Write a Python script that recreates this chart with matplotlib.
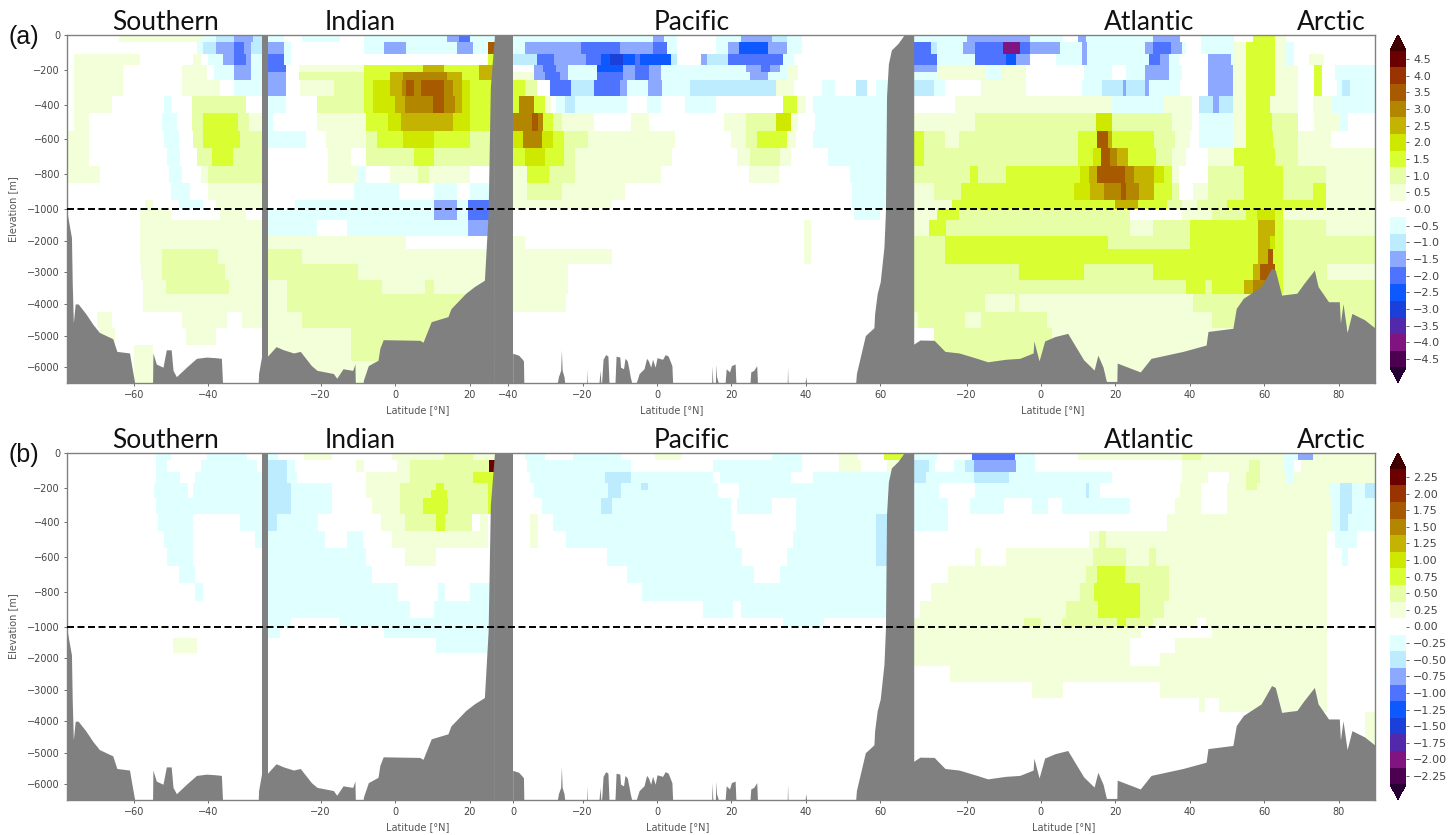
import numpy as np
import matplotlib
matplotlib.use('Agg')
import matplotlib.pyplot as plt
from matplotlib.colors import ListedColormap, BoundaryNorm

# depth levels of the model sections [m]
DEPTH_EDGES = [0, 40, 110, 170, 215, 260, 350, 450, 550, 650, 750, 850, 950, 1000, 1350, 1850, 2250,
               2750, 3250, 3700, 4250, 4750, 5300, 5800, 6500]

# each row (one depth level): class, lat where it ends, next class, ...  value = class * colorbar step
SOUTHERN_A = [
    [0,-64,1,-42,-1,-38,-2,-33,-3,-28,-2],
    [0,-43,-1,-41.5,-2,-38,-3,-33,-4,-30.5,-3,-28.5,-2],
    [0,-76,1,-58.5,0,-44,1,-42,0,-40,-1,-36,-3,-33,-4,-30,-3,-28.5,-1],
    [0,-76,1,-63,0,-47,1,-40.5,0,-38.5,-1,-33,-3,-28.5,-1],
    [0,-76,1,-63,0,-47,1,-40.5,0,-38.5,-1,-33,-3,-28.5,-1],
    [0,-76,1,-63,0,-47,1,-37,0,-33,-1],
    [0,-76,1,-66,0,-52,-1,-50,0,-44.5,2,-30,0],
    [0,-76,1,-72,0,-52.5,-1,-48.5,0,-44.5,2,-41.5,3,-32,2,-29,1],
    [1,-72,0,-52,-1,-48,0,-44,2,-41.5,3,-31.5,2],
    [1,-72,0,-51,-1,-47.5,0,-43,2,-39,3,-33.5,2],
    [1,-69,0,-50.5,-1,-47,0,-42,1,-40,2],
    [0,-50,-1,-45,0,-40,1],
    [0,-57,1,-55,0,-48,-1,-41.5,0,-38,1],
    [0,-58.5,1,-50,0,-37,1,-30,0],
    [0,-58.5,1],
    [0,-58.5,1],
    [0,-58.5,1,-52.5,2,-37.5,1],
    [0,-58,1,-52.5,2,-35.5,1],
    [0,-57.5,1,-51.5,2,-34.5,1],
    [0,-57.5,1],
    [0,-70,1,-66,0,-47,1,-35,0,-31,1],
    [0,-69,1,-65,0,-46,1,-38,0],
    [0,-60,1,-55,0],
    [0,-60,1,-55,0],
]
INDIAN_A = [
    [-1,-30,0,-25,-1,-15,0,-8.5,-1,14,-3,17,-4,20,-1],
    [-3,-30,-1,-28,0,-8.5,-1,-3,-3,3,-1,16.5,-3,21,-1,25,7],
    [-4,-30,-1,-28,0,25,3],
    [-4,-29.5,0,-26,1,-8.5,3,7.5,5,13,3,22.5,5],
    [-3,-29.5,0,-26,2,-8.5,3,-1.5,5,2,6,14,5,18,3,22.5,5],
    [-3,-29.5,0,-25.5,1,-16.5,2,-8.5,3,-6,4,-1.5,5,1.7,6,3,7,5,6,7,7,13,6,15.5,5,18,4,20,3],
    [-1,-29.5,0,-21,2,-8.5,3,-6,4,0,5,2.5,6,10,7,13,6,16,5,18,4,20,3],
    [-1,-33,0,-21,1,-8,3,-2,4,1.5,5,15.5,4,20,3],
    [-1,-24,0,-18.5,1,-8,2,-5,3,2,4,10.5,3,20,2],
    [0,-18,1,-12,0,-8,2,5,3,10.5,2],
    [0,-18,1,-10,-1,-8,0,-1.5,1,6,2,9,1,20,0],
    [0,-11,-1,1,0,10.5,-1,16.5,0,20,-1],
    [0,-27,-1,10.5,-3,16.5,-1,19.5,-4],
    [-1,10.5,-3,16.5,-1,19.5,-4],
    [-1,-21,0,-13,-1,19.5,-3],
    [1,3,0],
    [2,-25,1],
    [2,-10,1],
    [1,-29,2,-3.5,1,8,2,10.5,1],
    [1,-29,2],
    [1,-25,2],
    [1,-12,2],
    [1,-12,2],
    [1],
]
PACIFIC_A = [
    [-1,-1,-3,2,-1,5.5,0,16,-1,22.4,-3,31,-2,35,-1,39,0],
    [-1,-35.5,-3,-20.6,-4,-10,-3,-1,-4,2.7,-1,5.5,0,16,-1,19,-3,22,-5,30,-3,35,-1,39,0],
    [-2,-32.3,-4,-27.8,-3,-19,-4,-15,-5,-12.6,-6,-9,-5,-6,-4,-4.5,-5,3.6,-2,5.5,0,11.7,-3,13.5,-2,19,-4,34,-1,37,0],
    [0,-33,-3,-30.5,-4,-27,-3,-24,-1,-16,-5,-9,-3,-6,-4,-2,-3,1,-1,24,-3,28,-4,30.5,-3,33,-1,35,1,38,0],
    [1,-33,-3,-30,-4,-26,-3,-24,-1,-16,-4,-9,-3,-6,-4,-2,-3,1,-1,25,-3,30,-1,35,1,38,0],
    [3,-35.5,2,-32.3,0,-28.7,-4,-23,-2,-17,-4,-10,-3,-8,-1,-2.3,-3,1.5,-1,9,-2,32,1,37,0,44.5,-1,48,0,53.4,-2,56.5,0,59,-1],
    [3,-37,6,-33,3,-30,1,-28.5,0,-27,-1,-24.7,-2,-22,-1,-8,0,-2.7,-1,1.3,0,7.5,-1,16,0,34,3,37.7,1,40,0,42,-1],
    [6,-33.5,7,-32,6,-30.5,3,-28,2,-25.5,1,-17,0,-7,1,-2,0,18,1,24,2,32,4,36,1,38,0,42.5,-1],
    [4,-36,6,-31,4,-28,3,-25,2,-18.5,1,5,0,20,1,24,2,27,3,35,1,37.5,0,42,-1],
    [3,-35.5,4,-30,3,-25,2,-22,1,4,0,21.5,1,25,2,33,1,36,0,46,-1],
    [1,-35,3,-29,2,-22,1,1,0,24.7,1,32.7,0,52,-1],
    [1,-35,2,-25.5,1,-8.5,0,52.5,-1],
    [1,-12,0,52.5,-1],
    [0,53,-1,60,0],
    [0,39.5,1,41.5,0],
    [1,-35.5,0,39.5,1,41.5,0],
    [1,-12,0,39.5,1,41.5,0],
    [1,-24,0],
    [1,-24,0],
    [1,-24.5,0],
]
ATLANTIC_A = [
    [-1,-20,-3,-3,-1,6,0,10,-3,12,-1,30,-3,37.5,0,43,-1,52,0,57,3,63,1,66,0],
    [-4,-29.5,-2,-28,-1,-21,-3,-17.7,-4,-10.3,-8,-5.7,-4,-3,-3,5.3,-1,11,-3,12.4,-1,28,-3,30,-4,35,-3,38,-1,39,0,43,-1,52,1,55,3,63,1,66,-1,68,0],
    [-4,-28,-1,-17.7,-4,-9.5,-5,-6.7,-3,-3,0,4,-1,11,-3,12.4,-1,29,-4,32,-3,34.4,-1,37,0,45,-3,51,-1,52,1,55,3,63,1,66,-1,68,0,72,1,76,0],
    [-3,-28,1,-15,-1,-10.5,1,-4,0,11.5,-1,19,0,23,-1,28,-3,34.4,-1,38,0,45,-3,51.6,1,55,3,63,1,69,0,73.5,3,75.5,0,79,-1],
    [-1,-28,1,-15,-1,-10.5,1,-4,0,11.5,-1,19,0,23,-1,28,-3,34.4,-1,38,0,45,-3,51.6,1,55,3,63,1,69,0,73.5,3,75.5,0,79,-1],
    [-2,-28.7,-1,-25.8,0,-16,1,-4,0,11,-1,16.5,-2,22,-3,23,-2,28,-3,29,-1,37.6,0,45,-3,51.6,1,55,3,63,1,69,0,73.5,3,75.5,0,79.5,-1,81,-2,83,-1],
    [0,-23,1,19,-1,33,1,40.5,0,42.5,-2,46.3,-3,48,-2,51.6,1,55,3,61.5,1,69,0,73,1,78,-1],
    [1,-17.7,2,14.8,4,19,2,35.3,1,40.5,0,42.5,-1,51.6,1,55,3,62,2,69,0,73.5,1,80.5,-1,82.5,0],
    [3,-31.5,2,-25.8,1,-22,2,10,3,15,7,18,5,19,3,30.6,2,36,1,40,0,42.5,-1,51.6,1,55,3,62.5,2,69,1,78,0],
    [3,-31.5,2,10,3,14,4,16.2,7,18.6,6,20.5,5,23.4,3,31,2,35.3,1,39,0,45,1,52,3,63,2,69,1],
    [2,-19,3,-17,2,-9.5,3,10.5,4,13,5,15,7,22.5,6,25,5,30.6,4,33,3,35.3,1,37,0,45,2,54.5,3,65,2,76.4,1],
    [1,-28.7,2,-21.5,3,9,4,13.3,5,17,6,21.5,7,23,6,26.3,5,30.6,3,35.3,2,37,0,41,1,45,2,54.5,3,65,2,73,3,76.4,1],
    [1,-24,3,20,5,26,3,34,2,38,1,42,2,50,3,76.4,1],
    [1,-28,3,-22,2,24,0,38,1,46,2,55,3,58,4,63,3,65,1],
    [1,-30,3,-25.5,2,24,1,30,2,40,3,58.3,5,63,3,65,2,76.4,1],
    [2,-25.8,3,18,2,40,3,58.3,5,61.5,4,63,3,65,2],
    [2,-25.8,3,58.3,5,61,7,62.5,3,65,2],
    [2,-6,3,11.5,2,30,3,57,5,59,7,63,3,65,2,77,1],
    [2,39,3,44,2,46,3,54.5,5,57,6,61,3,65,2],
    [2,-15,1,-7,2,-6,1,41,2],
    [1,-33,2,-20.5,1,-16,2,1.5,1,46,2],
    [0,-28.7,2,3,1],
    [2,3,1],
    [2,3,1],
]

SOUTHERN_B = [
    [0,-54,-1,-50,0,-40.5,-1,-29.5,0],
    [0,-54,-1,-51,0,-42,-1,-27,0],
    [0,-54,-1,-47.7,0,-43.5,-1],
    [0,-54.4,-1,-45.5,0,-44,-1],
    [0,-54.4,-1,-45.5,0,-44,-1],
    [0,-54,-1],
    [0,-53.5,-1,-44.2,0,-31.5,-1],
    [0,-52,-1,-44.2,0,-27.5,-1],
    [0,-51,-1,-44.2,0],
    [0,-48,-1,-43.5,0],
    [0,-43.5,-1,-41.5,0],
    [0],
    [0],
    [0],
    [0,-49.5,1,-43,0],
]
INDIAN_B = [
    [-1,-31.5,0,-24.5,1,-17,0,-1,1,13,2,21,1],
    [-2,-29,-1,-27,0,-10.5,1,-8.5,0,0.5,1,4,2,25.4,9],
    [-2,-29,-1,-26.5,0,-8,1,4,2,21,3],
    [-2,-28,-1,-17,0,-8,1,1.2,2,11,3,13,2,25,3],
    [-2,-28,-1,-17,0,-8,1,1.2,2,9.5,3,14,2,25,3],
    [-2,-28,-1,-17,0,-6.3,1,1.2,2,7.5,3,14.2,2,25,3],
    [-2,-31.8,-1,-20.6,0,-3.7,1,2.6,2,11,3,13.3,2,20.5,0,22.7,1,25,0],
    [-1,-19,0,-13,-1,-8.6,0,-1,1,25,0],
    [-1,-7.7,0,2.6,1,11,0],
    [-1,-6.3,0],
    [-1,0.8,0,11.5,-1,13.3,0,20,-1],
    [-1,4,0,10.6,-1],
    [-1,-28,0,-15.3,-1],
    [-1,-31,0,-3,-1],
    [0,11,-1],
]
PACIFIC_B = [
    [0,-35.5,-1,-30,0,-22.5,-1,-9.5,0,-0.5,1,6.5,0,31,-1,39,0,49,1,54,0,61,3],
    [0,-35,-1,-7,0,15,-1,39,0,49,1,55,0,62,1],
    [0,-34,-1,-14,-2,-7,-1,15,0,17,-1,36,0,42,-1],
    [0,-33,-1,-13,-2,-9.5,-1,-4.3,-2,-2.5,-1,16.5,0,22,-1],
    [0,-33,-1,-13,-2,-9.5,-1,16.5,0,22,-1],
    [0,-31,-1,-15,-2,-12,-1,20,0,21.5,-1,31,0,37.5,-1],
    [0,-34,1,-32,0,-28,-1,20,0,37.5,-1,59,-2],
    [0,-34,1,-32,0,-24.5,-1,21,0,36.5,-1,59,-2],
    [0,-13.5,-1,23,0,35,-1,59,-2],
    [0,-8,-1,26,0,33,-1],
    [0,-4,-1],
    [0,12.5,-1,20.5,0,22.5,-1],
    [0,34,-1,45,0],
]
ATLANTIC_B = [
    [-1,-28,0,-18.5,-4,-7,-1,-1.5,0,10,1,38,2,43,1,65,-1,69,-3,73,1],
    [-2,-30,-1,-28.5,0,-23.5,-1,-20.5,-2,-18,-3,-6.7,-1,-1.5,0,38,1,56,2,59,1,65,-1,68,0,70,1],
    [-2,-31,-1,-18,-2,-8.6,-1,19,0,38,1,45,0,50.5,1,55,2,59,1,66,-1,68,1],
    [-1,-27.5,0,-17.7,-1,12,-2,13,-1,16,0,37.5,1,43,0,50,1,55,2,58,1,77.5,-1,80.5,-2,83.5,-1,87,-2],
    [-1,-27.5,0,-17.7,-1,12,-2,13,-1,16,0,37.5,1,43,0,50,1,77.5,-1,80.5,-2,83.5,-1,87,-2],
    [-1,-25,0,-19,-1,-10,0,-2.4,-1,2,0,5.7,-1,24,0,36,1,43,0,50,1,78,-1,80.5,-2,83.5,-1],
    [-1,-25,0,34,1,78,-1,80.5,-2,82.5,-1],
    [0,13,1,15.5,2,17.5,1,77,0,79,-1,85,0],
    [0,-17.7,1,-16,0,-9.6,1,14,2,23,1,29,2,31,1,77,0,81,-1,82.5,0],
    [0,-25,1,12,2,15,3,22.5,2,34.5,1,77,0],
    [0,-29.6,1,10.5,2,14.3,3,26.7,2,34.5,1,77,0],
    [0,-32.5,1,6.7,2,15.3,3,26.7,2,33,1,77,0],
    [1,-4.5,2,0,1,5.7,2,20.5,3,23,2,30,1,42,0,44.5,1,77,0],
    [1,27,0,46,1,77,0],
    [1,24,0,36,1,77,0],
    [1,24,0,32,1,77,0],
    [0,-24.5,1,77,0],
    [0,-2.5,1,6,0,32,1,77,0],
    [0,42.5,1,44,0,48,1,77,0],
    [0,87,1],
    [0,87,1],
]

# sea floor depth along each section [m], 6500 = deeper than the plot
SOUTHERN_LAT = [-78,-76.8,-76.6,-76.3,-75.8,-75,-73,-71,-69.3,-65.7,-64.6,-61.2,-60.7,-59.8,-55,-54.9,-54,-52.2,-51.3,-50,-49.5,-48.6,-45.9,-43.2,-40.5,-38,-36.5,-36.2,-26.6,-26.5,-25.6]
SOUTHERN_FLOOR = [1100,1900,3300,4600,4000,4000,4300,4650,4900,5100,5500,5550,5900,6500,6500,5550,5900,6000,5450,5450,6100,6300,6000,5720,5680,5700,5720,6500,6500,6200,5600]
INDIAN_LAT = [-34.3,-32,-30,-27.3,-25.5,-22.5,-21,-16.6,-15.7,-14,-11.4,-10.8,-10.7,-8.6,-8.5,-7.2,-4.6,-4.1,-3.2,6.6,7.5,9.7,14.2,15,19,21.3,24,24.5,25,25.6,26.7]
INDIAN_FLOOR = [5650,5350,5450,5550,5500,5950,6100,6200,6350,6050,6100,5900,6500,6500,6400,5950,5780,5400,5130,5150,5210,4560,4400,4150,3660,3450,3250,2200,1150,300,0]
PACIFIC_LAT = [-38.8,-37.2,-36.2,-35.9,-35.8,-26.8,-26.5,-25.9,-25.7,-25.5,-25,-24.8,-18.9,-18.8,-18.7,-15.6,-15.3,-15.1,-14.9,-14.5,-13.8,-13.2,-12.9,-11.3,-11,-10,-9.8,-9,-8.6,-8,-7.5,-7.2,-6.8,-5.6,-4.8,-3.5,-2.8,-2.3,-1.7,-1.2,-0.5,0,1.5,2.2,3,4,4.2,14.7,14.8,15,15.7,15.8,16,16.5,18.3,18.6,19.5,20,21,21.2,25,25.2,26,26.8,27,35,35.1,35.2,39.8,40,40.2,53.4,53.6,55,56,58.3,58.5,59.2,60,61,61.4,61.7,62.2,63,64.8,66.4,69]
PACIFIC_FLOOR = [5560,5620,5750,5800,6500,6500,6300,6100,5450,6100,6300,6500,6500,6050,6500,6500,6100,6500,6500,5750,5600,5650,6500,6500,5650,5680,6000,6050,5720,5800,6100,6300,6500,6500,6200,6050,5720,5800,6000,5750,6000,5700,5750,5600,5650,5950,6500,6500,5950,6500,6500,5900,6300,6500,6500,6050,6150,5950,5900,6500,6500,6150,6100,5950,6500,6500,6000,6500,6500,6300,6500,6500,6200,5500,5000,4750,4300,3660,3300,2200,1100,350,165,86,48,0,0]
ATLANTIC_LAT = [-34.6,-32.5,-28.7,-25.8,-22,-17.2,-14.3,-9.5,-5.7,-2.1,-1.9,-0.5,1,3.8,7.2,9.6,11.5,14.3,15.3,16.7,17.6,20.4,20.5,26.7,29.6,38.2,44.4,44.9,51.6,52.5,54.4,59.2,62,63,64.7,68.8,70.7,73.5,74.5,77.3,80.2,80.5,81.2,82.3,83.6,87,89.9]
ATLANTIC_FLOOR = [5300,5140,5150,5500,5550,5720,5830,5750,5720,5550,5170,5800,5170,5030,4930,5400,5770,6090,5620,6000,6450,6450,5870,6150,5720,5500,5300,4870,4770,4140,3820,3450,2870,2930,3720,3660,3350,2930,3450,3930,3930,4600,3990,4900,4300,4500,4770]

# offset on the joined x axis, first and last lat, ticks of each section
SECTION_OFFSET = [78.0, 88.2, 158.6, 261.8]
SECTION_RANGE = [(-78, -25.6), (-34.2, 26.7), (-38.8, 69), (-34, 89.8)]
SECTION_TICKS = [[-60, -40], [-20, 0, 20], [-40, -20, 0, 20, 40, 60], [-20, 0, 20, 40, 60, 80]]
FLOORS = [(SOUTHERN_LAT, SOUTHERN_FLOOR), (INDIAN_LAT, INDIAN_FLOOR), (PACIFIC_LAT, PACIFIC_FLOOR), (ATLANTIC_LAT, ATLANTIC_FLOOR)]

TOP_COLORS = ['#fff', '#f2ffd9', '#e6ffa6', '#d9ff33', '#cfe800', '#c4b300', '#b38600', '#a85a00', '#993300', '#6a0000']
LOW_COLORS = ['#e0ffff', '#bdecff', '#8ca8ff', '#4d73ff', '#0d59ff', '#1a40d9', '#5229ab', '#801480', '#4d0050']
CLASS_COLORS = LOW_COLORS[::-1] + TOP_COLORS
TITLES = ['Southern', 'Indian', 'Pacific', 'Atlantic', 'Arctic']
TITLE_PX = [166, 360, 692, 1149, 1331]
LATLABEL_PX_A = [418, 672, 1053]
LATLABEL_PX_B = [418, 678, 1064]
W, H = 1454, 835
K = 0.1816


def fwd(y):
    y = np.asarray(y, dtype=float)
    return np.where(y >= -1000, y, -1000 + (y + 1000) * K)


def inv(y):
    y = np.asarray(y, dtype=float)
    return np.where(y >= -1000, y, -1000 + (y + 1000) / K)


def expand(rows, lats):
    z = np.zeros((len(DEPTH_EDGES) - 1, len(lats)))
    for i, row in enumerate(rows):
        vals = row[0::2]
        breaks = row[1::2]
        z[i] = np.array(vals)[np.searchsorted(breaks, lats, side='right')]
    return z


def panel(top, bottom, step, sections, label, lat_px):
    ax = fig.add_axes([67 / W, 1 - bottom / H, (1375 - 67) / W, (bottom - top) / H])
    ax.set_facecolor('#808080')
    ax.set_yscale('function', functions=(fwd, inv))
    levels = (np.arange(-9, 11) - 0.5) * step
    cmap = ListedColormap(CLASS_COLORS).with_extremes(under='#260033', over='#400000')
    norm = BoundaryNorm(levels, cmap.N)
    ticks = []
    labels = []
    for rows, off, rng, tk, (flat, floor) in zip(sections, SECTION_OFFSET, SECTION_RANGE, SECTION_TICKS, FLOORS):
        edges = np.arange(rng[0], rng[1] + 0.25, 0.25)
        centers = (edges[:-1] + edges[1:]) / 2
        z = expand(rows, centers) * step
        pm = ax.pcolormesh(edges + off, -np.array(DEPTH_EDGES), z, cmap=cmap, norm=norm, shading='flat', antialiased=False, zorder=1)
        ax.fill_between(np.array(flat) + off, -np.array(floor), -6500, color='#808080', lw=0, zorder=2)
        ticks += [t + off for t in tk]
        labels += [str(t).replace('-', '\u2212') for t in tk]
    if label == '(b)':
        # the -40 label of the Pacific is cut in half in panel b
        i = ticks.index(-40 + SECTION_OFFSET[2])
        ticks[i] = -38.6 + SECTION_OFFSET[2]
        labels[i] = '0'
    ax.axhline(-1000, color='k', ls=(0, (3.6, 1.8)), lw=1.4, zorder=3)
    ax.set_xlim(0, 351.6)
    ax.set_ylim(-6500, 0)
    ax.set_xticks(ticks, labels)
    ax.set_yticks([0, -200, -400, -600, -800, -1000, -2000, -3000, -4000, -5000, -6000])
    ax.set_yticklabels(['0', '\u2212200', '\u2212400', '\u2212600', '\u2212800', '\u22121000', '\u22122000', '\u22123000', '\u22124000', '\u22125000', '\u22126000'])
    ax.tick_params(labelsize=7, length=2.5, width=0.6, color='#555555', labelcolor='#444444', pad=2.5)
    ax.set_ylabel('Elevation [m]', fontsize=7, color='#555555')
    ax.yaxis.set_label_coords((18 - 67) / (1375 - 67), 0.5)
    for s in ax.spines.values():
        s.set_color('#808080')
        s.set_linewidth(1.0)
    for name, px in zip(TITLES, TITLE_PX):
        fig.text(px / W, 1 - (top - 13) / H, name, family='Lato', fontsize=19, ha='center', va='center', color='#111111')
    fig.text(8 / W, 1 - (top + 2) / H, label, family='Liberation Sans', fontsize=18, ha='left', va='center', color='#111111')
    for px in lat_px:
        fig.text(px / W, 1 - (bottom + 27) / H, 'Latitude [\u00b0N]', fontsize=7, ha='center', va='center', color='#555555')
    # the colorbar shrinks itself inside this box to make room for the two tips
    cax = fig.add_axes([1390 / W, 1 - bottom / H, 16 / W, (bottom - top) / H])
    cb = fig.colorbar(pm, cax=cax, extend='both', extendfrac=0.05, ticks=np.arange(-9, 10) * step)
    if step == 0.5:
        cb.ax.set_yticklabels([f'{t * step:.1f}'.replace('-', '\u2212') for t in range(-9, 10)])
    else:
        cb.ax.set_yticklabels([f'{t * step:.2f}'.replace('-', '\u2212') for t in range(-9, 10)])
    cb.ax.tick_params(labelsize=8, length=2.5, width=0.6, color='#555555', labelcolor='#444444', pad=2.5)
    cb.outline.set_visible(False)
    cb.ax.minorticks_off()
    return ax


fig = plt.figure(figsize=(W / 100, H / 100), dpi=100)
panel(35, 383, 0.5, [SOUTHERN_A, INDIAN_A, PACIFIC_A, ATLANTIC_A], '(a)', LATLABEL_PX_A)
panel(453, 800, 0.25, [SOUTHERN_B, INDIAN_B, PACIFIC_B, ATLANTIC_B], '(b)', LATLABEL_PX_B)
fig.savefig('out.png', dpi=100)
